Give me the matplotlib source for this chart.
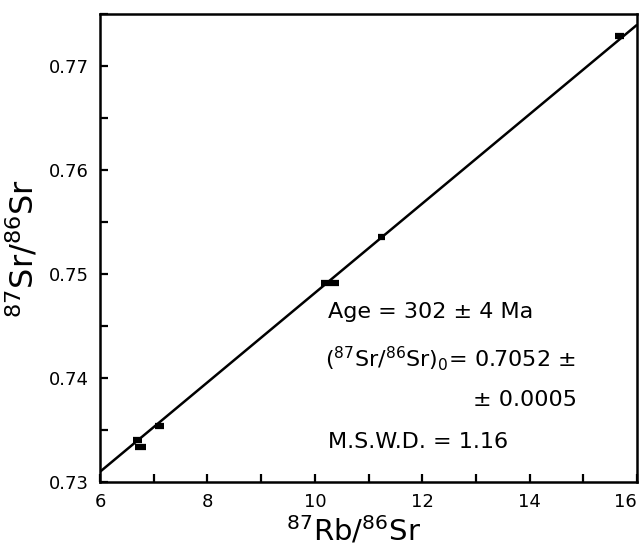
import numpy as np
import matplotlib
matplotlib.use("Agg")
import matplotlib.pyplot as plt
from matplotlib.ticker import MultipleLocator

plt.rcParams['font.family'] = ['DejaVu Sans']
plt.rcParams['mathtext.default'] = 'regular'

# measured whole-rock ratios (x error shown as horizontal bars)
rb_sr = [6.70, 6.76, 7.11, 10.28, 11.24, 15.67]
sr_sr = [0.7340, 0.7334, 0.7354, 0.7491, 0.7536, 0.7729]
rb_err = [0.09, 0.10, 0.08, 0.17, 0.07, 0.08]

age_ma = 302
sr0 = 0.7052
decay = 1.42e-11  # 87Rb decay constant, 1/yr

x_ticks = [6, 8, 10, 12, 14, 16]
y_ticks = [0.73, 0.74, 0.75, 0.76, 0.77]

fig = plt.figure(figsize=(6.39, 5.48), dpi=100)
ax = fig.add_axes([0.1565, 0.1204, 0.8405, 0.8541])

# isochron from the stated age and initial ratio
slope = np.exp(decay * age_ma * 1e6) - 1
xs = np.array([6, 16])
ax.plot(xs, sr0 + slope * xs, color='k', lw=1.8, solid_capstyle='butt')

ax.errorbar(rb_sr, sr_sr, xerr=rb_err, fmt='none', ecolor='k',
            elinewidth=4.5, capsize=0)

ax.set_xlim(6, 16)
ax.set_ylim(0.73, 0.775)
ax.set_xticks(x_ticks)
ax.set_yticks(y_ticks)
ax.set_xticklabels([str(t) for t in x_ticks])
ax.set_yticklabels(['%.2f' % t for t in y_ticks])
ax.xaxis.set_minor_locator(MultipleLocator(1))
ax.yaxis.set_minor_locator(MultipleLocator(0.005))
ax.tick_params(which='both', direction='in', length=6, width=1.6,
               labelsize=13, pad=8)
# keep the last x label inside the figure
ax.get_xticklabels()[-1].set_horizontalalignment('right')
for s in ax.spines.values():
    s.set_linewidth(1.8)

ax.set_xlabel(r'$^{87}$Rb/$^{86}$Sr', fontsize=21, labelpad=2)
ax.xaxis.set_label_coords(0.472, -0.07, transform=ax.transAxes)
ax.xaxis.label.set_va('top')
ax.set_ylabel(r'$^{87}$Sr/$^{86}$Sr', fontsize=23, labelpad=6)

kw = dict(fontsize=16, ha='left', va='center')
ax.text(10.25, 0.7463, 'Age = 302 ± 4 Ma', **kw)
ax.text(10.19, 0.7419, r'($^{87}$Sr/$^{86}$Sr)$_0$= 0.7052 ±', **kw)
ax.text(12.95, 0.7379, '± 0.0005', **kw)
ax.text(10.25, 0.7338, 'M.S.W.D. = 1.16', **kw)

fig.savefig('out.png', dpi=100)
